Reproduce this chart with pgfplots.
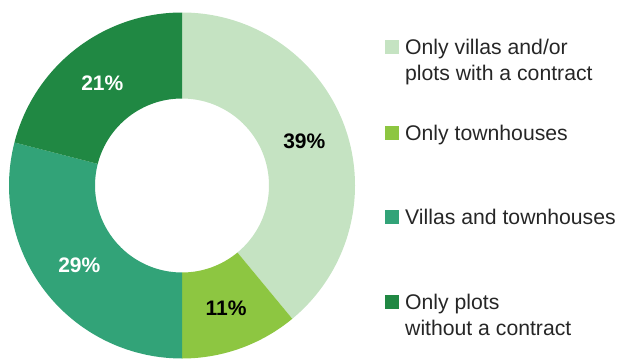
\documentclass[border=0pt]{standalone}
\usepackage{pgfplots}
\usepackage{pgfplotstable}
\pgfplotsset{compat=1.18}
\usepackage{fontspec}
\setmainfont{Liberation Sans}

\definecolor{slicea}{HTML}{C5E3C2}
\definecolor{sliceb}{HTML}{8DC641}
\definecolor{slicec}{HTML}{32A378}
\definecolor{sliced}{HTML}{208843}
\definecolor{legendtext}{HTML}{262626}

% share of each answer (percent), fill colour and label colour
\pgfplotstableread{
value fill   text
39    slicea black
11    sliceb black
29    slicec white
21    sliced white
}\donutdata

% donut geometry in axis units (1 unit = 1bp)
\def\cx{182}
\def\cy{172.5}
\def\Rout{173}
\def\Rin{87}
\def\Rlab{130}

\newcommand\labelfont{\fontsize{21bp}{24bp}\selectfont\bfseries}
\newcommand\legfont{\fontsize{21.2bp}{25bp}\selectfont\color{legendtext}}

% turn the table into drawing commands, slices clockwise from 12 o'clock
\newcommand\buildslices{%
  \gdef\slicecmds{}%
  \gdef\cumval{0}%
  \pgfplotstablegetrowsof{\donutdata}%
  \pgfmathtruncatemacro\lastrow{\pgfplotsretval-1}%
  \foreach \i in {0,...,\lastrow}{%
    \pgfplotstablegetelem{\i}{value}\of\donutdata \let\v\pgfplotsretval
    \pgfplotstablegetelem{\i}{fill}\of\donutdata \let\fc\pgfplotsretval
    \pgfplotstablegetelem{\i}{text}\of\donutdata \let\tc\pgfplotsretval
    \pgfmathsetmacro\aone{90-3.6*\cumval}%
    \pgfmathsetmacro\atwo{90-3.6*(\cumval+\v)}%
    \pgfmathsetmacro\amid{(\aone+\atwo)/2}%
    \pgfmathsetmacro\xo{\cx+\Rout*cos(\aone)}%
    \pgfmathsetmacro\yo{\cy+\Rout*sin(\aone)}%
    \pgfmathsetmacro\xi{\cx+\Rin*cos(\atwo)}%
    \pgfmathsetmacro\yi{\cy+\Rin*sin(\atwo)}%
    \pgfmathsetmacro\xl{\cx+\Rlab*cos(\amid)}%
    \pgfmathsetmacro\yl{\cy+\Rlab*sin(\amid)}%
    \pgfmathtruncatemacro\lab{\v}%
    \xdef\slicecmds{\unexpanded\expandafter{\slicecmds}%
      \noexpand\fill[\fc] (axis cs:\xo,\yo)
        arc[start angle=\aone, end angle=\atwo, radius=\Rout bp]
        -- (axis cs:\xi,\yi)
        arc[start angle=\atwo, end angle=\aone, radius=\Rin bp] -- cycle;
      \noexpand\node[text=\tc, font=\noexpand\labelfont, inner sep=0pt]
        at (axis cs:\xl,\yl) {\lab\noexpand\%};
    }%
    \pgfmathsetmacro\newcum{\cumval+\v}%
    \xdef\cumval{\newcum}%
  }%
}

\begin{document}
\buildslices
\begin{tikzpicture}
\begin{axis}[
  x=1bp, y=1bp,
  xmin=0, xmax=619, ymin=0, ymax=358,
  hide axis,
  clip=false,
]
\slicecmds

% legend
\fill[slicea] (axis cs:385,303.7) rectangle (axis cs:399,317.7);
\node[anchor=base west, inner sep=0pt, font=\legfont] at (axis cs:405,303.7) {Only villas and/or};
\node[anchor=base west, inner sep=0pt, font=\legfont] at (axis cs:405,278) {plots with a contract};

\fill[sliceb] (axis cs:385,218) rectangle (axis cs:399,232);
\node[anchor=base west, inner sep=0pt, font=\legfont] at (axis cs:405,217.5) {Only townhouses};

\fill[slicec] (axis cs:385,133.7) rectangle (axis cs:399,147.7);
\node[anchor=base west, inner sep=0pt, font=\legfont] at (axis cs:405,133.7) {Villas and townhouses};

\fill[sliced] (axis cs:385,48.7) rectangle (axis cs:399,62.7);
\node[anchor=base west, inner sep=0pt, font=\legfont] at (axis cs:405,48.7) {Only plots};
\node[anchor=base west, inner sep=0pt, font=\legfont] at (axis cs:405,23) {without a contract};
\end{axis}
\pgfresetboundingbox
\useasboundingbox (current axis.south west) rectangle (current axis.north east);
\end{tikzpicture}
\end{document}
